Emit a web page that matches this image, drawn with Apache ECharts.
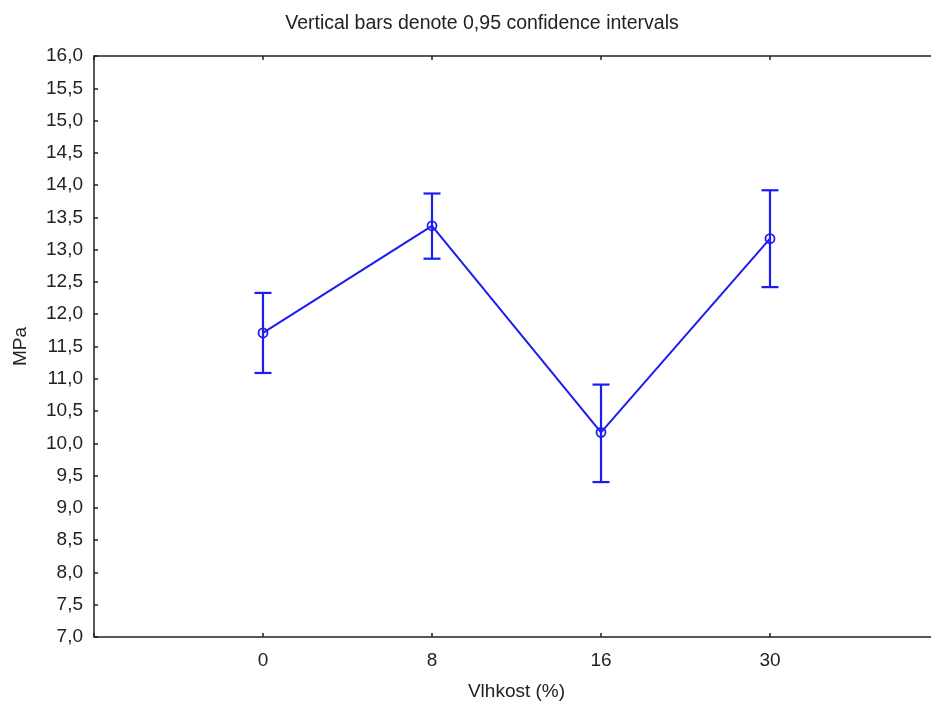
<!DOCTYPE html>
<html>
<head>
<meta charset="utf-8">
<script src="https://cdn.jsdelivr.net/npm/echarts@6/dist/echarts.min.js"></script>
<style>
  html, body { margin: 0; padding: 0; background: #fff; }
  #chart { width: 931px; height: 702px; }
</style>
</head>
<body>
<div id="chart"></div>
<script>
// Moisture levels (%) and measured strength (MPa) with 95 % confidence limits
const categories = ['0', '8', '16', '30'];
const means = [11.71, 13.37, 10.17, 13.17];
const lower = [11.09, 12.86, 9.40, 12.42];
const upper = [12.33, 13.87, 10.91, 13.92];
const yTicks = { min: 7, max: 16, step: 0.5 };

const BLUE = '#1c1cf2';
const INK = '#222';
const FONT = 'Liberation Sans, Arial, sans-serif';
const FS = 19;

const lineData = means.map((v, i) => [i, v]);
const barData = means.map((v, i) => [i, lower[i], upper[i]]);

const chart = echarts.init(document.getElementById('chart'), null, { renderer: 'canvas' });

const tickStyle = { inside: true, length: 4, lineStyle: { color: INK, width: 1.5 } };

chart.setOption({
  animation: false,
  backgroundColor: '#fff',
  title: {
    text: 'Vertical bars denote 0,95 confidence intervals',
    left: 477, top: 9, textAlign: 'center',
    textStyle: { fontFamily: FONT, fontSize: 19.5, fontWeight: 'normal', color: INK }
  },
  grid: {
    left: 94, top: 56, width: 845, height: 581,
    outerBoundsMode: 'none', containLabel: false,
    show: true, borderColor: INK, borderWidth: 1.5, backgroundColor: 'transparent'
  },
  xAxis: [{
    type: 'value', min: -1, max: 4, interval: 1, position: 'bottom',
    name: 'Vlhkost (%)', nameLocation: 'middle', nameGap: 45,
    nameTextStyle: { fontFamily: FONT, fontSize: FS, color: INK },
    axisLine: { show: false, onZero: false },
    axisTick: tickStyle,
    splitLine: { show: false },
    axisLabel: {
      fontFamily: FONT, fontSize: FS, color: INK, margin: 14,
      formatter: v => (v >= 0 && v < categories.length) ? categories[v] : ''
    }
  }, {
    type: 'value', min: -1, max: 4, interval: 1, position: 'top',
    axisLine: { show: false, onZero: false },
    axisTick: tickStyle,
    splitLine: { show: false },
    axisLabel: { show: false }
  }],
  yAxis: {
    type: 'value', min: yTicks.min, max: yTicks.max, interval: yTicks.step,
    position: 'left',
    name: 'MPa', nameLocation: 'middle', nameGap: 64,
    nameTextStyle: { fontFamily: FONT, fontSize: FS, color: INK },
    axisLine: { show: false, onZero: false },
    axisTick: tickStyle,
    splitLine: { show: false },
    axisLabel: {
      fontFamily: FONT, fontSize: FS, color: INK, margin: 11,
      formatter: v => v.toFixed(1).replace('.', ',')
    }
  },
  series: [{
    type: 'custom',
    data: barData,
    z: 3,
    renderItem: (params, api) => {
      const x = api.value(0);
      const lo = api.coord([x, api.value(1)]);
      const hi = api.coord([x, api.value(2)]);
      const hw = 8.5;
      const style = { stroke: BLUE, lineWidth: 2.2 };
      return {
        type: 'group',
        children: [
          { type: 'line', shape: { x1: lo[0], y1: lo[1], x2: hi[0], y2: hi[1] }, style },
          { type: 'line', shape: { x1: hi[0] - hw, y1: hi[1], x2: hi[0] + hw, y2: hi[1] }, style },
          { type: 'line', shape: { x1: lo[0] - hw, y1: lo[1], x2: lo[0] + hw, y2: lo[1] }, style }
        ]
      };
    }
  }, {
    type: 'line',
    data: lineData,
    z: 4,
    symbol: 'circle',
    symbolSize: 9,
    lineStyle: { color: BLUE, width: 2 },
    itemStyle: { color: 'rgba(255,255,255,0)', borderColor: BLUE, borderWidth: 1.8 }
  }]
});
</script>
</body>
</html>
